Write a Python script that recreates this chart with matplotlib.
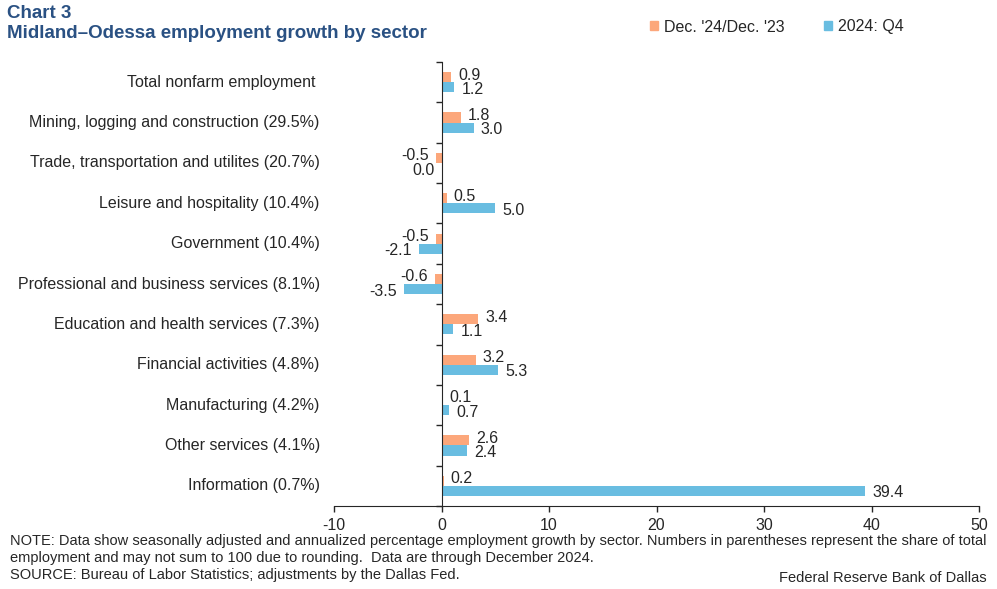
import matplotlib.pyplot as plt
import matplotlib.transforms as mtransforms
from matplotlib.patches import Patch
import numpy as np

plt.rcParams['font.family'] = ['Liberation Sans', 'DejaVu Sans']

categories = [
    'Total nonfarm employment ',
    'Mining, logging and construction (29.5%)',
    'Trade, transportation and utilites (20.7%)',
    'Leisure and hospitality (10.4%)',
    'Government (10.4%)',
    'Professional and business services (8.1%)',
    'Education and health services (7.3%)',
    'Financial activities (4.8%)',
    'Manufacturing (4.2%)',
    'Other services (4.1%)',
    'Information (0.7%)',
]
dec_yoy = [0.9, 1.8, -0.5, 0.5, -0.5, -0.6, 3.4, 3.2, 0.1, 2.6, 0.2]
q4_ann = [1.2, 3.0, 0.0, 5.0, -2.1, -3.5, 1.1, 5.3, 0.7, 2.4, 39.4]
series_names = ["Dec. '24/Dec. '23", '2024: Q4']
x_ticks = [-10, 0, 10, 20, 30, 40, 50]
note_lines = [
    'NOTE: Data show seasonally adjusted and annualized percentage employment growth by sector. '
    'Numbers in parentheses represent the share of total',
    'employment and may not sum to 100 due to rounding.  Data are through December 2024.',
    'SOURCE: Bureau of Labor Statistics; adjustments by the Dallas Fed.',
]

orange = '#fca77b'
blue = '#69bde1'
text_col = '#262626'
title_col = '#2a5183'
fs = 11.5

fig = plt.figure(figsize=(9.97, 5.89), dpi=100)
ax = fig.add_axes([334 / 997, 1 - 506 / 589, 645 / 997, 444 / 589])

y = np.arange(len(categories))
h = 0.25
ax.barh(y - h / 2, dec_yoy, height=h, color=orange)
ax.barh(y + h / 2, q4_ann, height=h, color=blue)

ax.set_xlim(-10, 50)
ax.set_ylim(len(categories) - 0.5, -0.5)
ax.set_xticks(x_ticks)
ax.set_xticklabels([str(t) for t in x_ticks], fontsize=fs, color=text_col)
ax.tick_params(axis='x', direction='out', length=4, width=1, color=text_col, pad=5)

# y axis sits at zero, ticks between categories
ax.spines['left'].set_position(('data', 0))
ax.spines['right'].set_visible(False)
ax.spines['top'].set_visible(False)
ax.spines['left'].set_color(text_col)
ax.spines['bottom'].set_color(text_col)
ax.set_yticks(np.arange(len(categories) + 1) - 0.5)
ax.set_yticklabels([])
ax.tick_params(axis='y', direction='out', length=4, width=1, color=text_col)

trans = mtransforms.blended_transform_factory(ax.transAxes, ax.transData)
for i, c in enumerate(categories):
    ax.text(-0.022, i, c, transform=trans, ha='right', va='center',
            fontsize=fs, color=text_col)

# value labels
for vals, off_y, dy in [(dec_yoy, -h / 2, 1.5), (q4_ann, h / 2, -1.5)]:
    for i, v in enumerate(vals):
        if v > 0:
            ax.annotate(f'{v:.1f}', (v, i + off_y), xytext=(5, dy),
                        textcoords='offset points', ha='left', va='center',
                        fontsize=fs, color=text_col)
        else:
            ax.annotate(f'{v:.1f}', (v, i + off_y), xytext=(-5, dy),
                        textcoords='offset points', ha='right', va='center',
                        fontsize=fs, color=text_col)

fig.text(7 / 997, 1 - 13 / 589, 'Chart 3', fontsize=13.5, fontweight='bold',
         color=title_col, va='center', ha='left')
fig.text(7 / 997, 1 - 34 / 589, 'Midland\u2013Odessa employment growth by sector',
         fontsize=13.5, fontweight='bold', color=title_col, va='center', ha='left')

handles = [Patch(color=orange), Patch(color=blue)]
fig.legend(handles, series_names, loc='center left',
           bbox_to_anchor=(650 / 997, 1 - 27 / 589), ncol=2, frameon=False,
           fontsize=fs, handlelength=0.5, handleheight=0.5, handletextpad=0.35,
           columnspacing=2.5, borderaxespad=0, borderpad=0,
           labelcolor=text_col)

for k, line in enumerate(note_lines):
    fig.text(10 / 997, 1 - (541 + 17 * k) / 589, line, fontsize=10.5,
             color=text_col, va='center', ha='left')
fig.text(987 / 997, 1 - 578 / 589, 'Federal Reserve Bank of Dallas', fontsize=10.5,
         color=text_col, va='center', ha='right')

fig.savefig('out.png', dpi=100)
